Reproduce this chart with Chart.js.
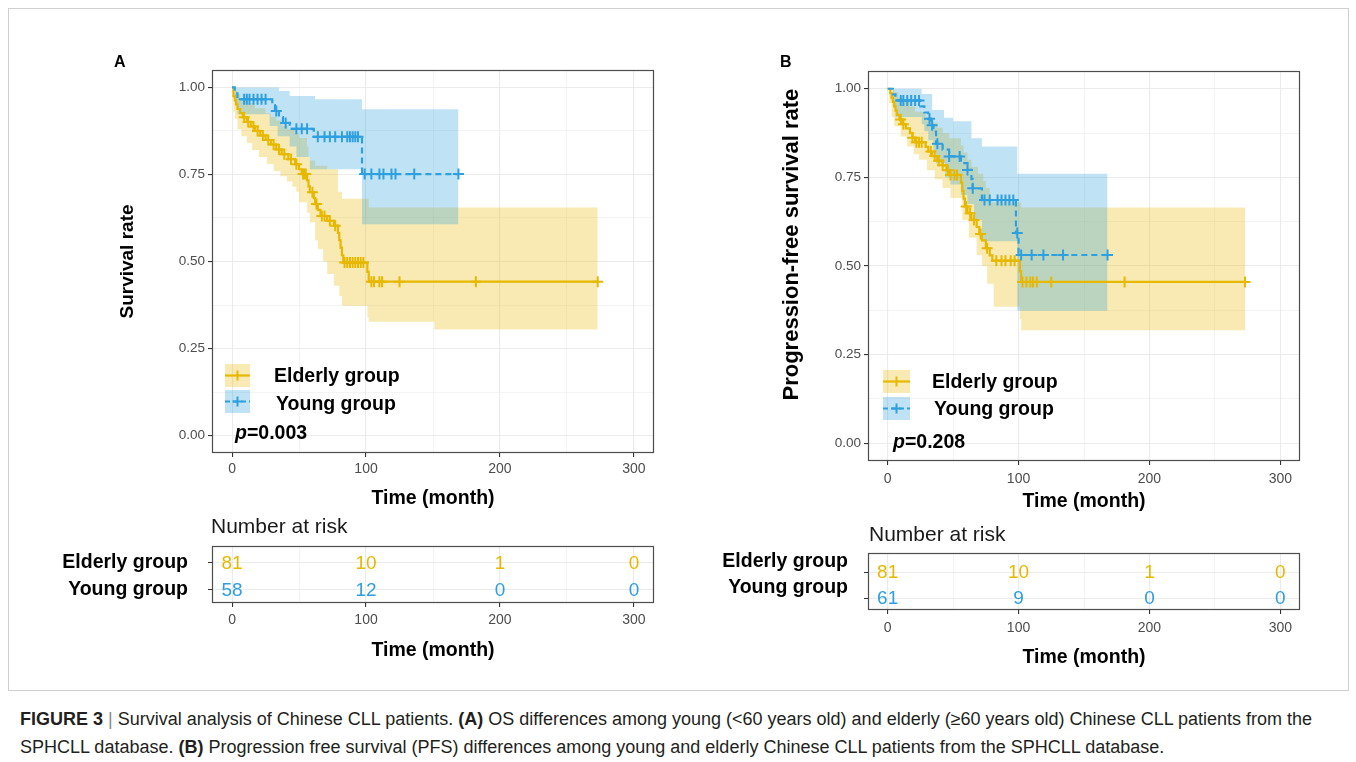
<!DOCTYPE html>
<html>
<head>
<meta charset="utf-8">
<script src="https://cdn.jsdelivr.net/npm/chart.js@4.4.1/dist/chart.umd.min.js"></script>
<style>
  html,body{margin:0;padding:0;background:#fff;}
  body{width:1356px;height:762px;position:relative;overflow:hidden;font-family:"Liberation Sans",Arial,Helvetica,sans-serif;color:#000;}
  canvas{position:absolute;}
  .abs{position:absolute;white-space:nowrap;}
  .lbl{font-weight:bold;font-size:19.5px;line-height:22px;}
  .risk{font-size:21px;line-height:24px;color:#1a1a1a;}
  .letter{font-weight:bold;font-size:16px;line-height:18px;}
  .cap{font-size:18px;line-height:28px;color:#231F20;left:20px;top:705px;}
</style>
</head>
<body>
<div class="abs" style="left:8px;top:8px;width:1339px;height:681px;border:1px solid #cfcfcf;"></div>

<canvas id="mainA" width="570" height="480" style="left:100px;top:40px;width:570px;height:480px"></canvas>
<canvas id="riskA" width="630" height="130" style="left:40px;top:540px;width:630px;height:130px"></canvas>
<canvas id="mainB" width="560" height="490" style="left:760px;top:40px;width:560px;height:490px"></canvas>
<canvas id="riskB" width="620" height="130" style="left:700px;top:545px;width:620px;height:130px"></canvas>

<div class="abs letter" style="left:114px;top:53px">A</div>
<div class="abs letter" style="left:780px;top:53px">B</div>

<!-- legend A -->
<svg class="abs" style="left:225px;top:364px" width="25" height="49">
  <rect x="0" y="0" width="25" height="23" fill="rgba(231,184,0,0.3)"/>
  <line x1="0" y1="11.5" x2="25" y2="11.5" stroke="#E7B800" stroke-width="2.2"/>
  <line x1="12.5" y1="6.5" x2="12.5" y2="16.5" stroke="#E7B800" stroke-width="2"/>
  <rect x="0" y="26" width="25" height="23" fill="rgba(46,159,223,0.3)"/>
  <line x1="0" y1="37.5" x2="25" y2="37.5" stroke="#2E9FDF" stroke-width="2.2" stroke-dasharray="5,3"/>
  <line x1="12.5" y1="32.5" x2="12.5" y2="42.5" stroke="#2E9FDF" stroke-width="2"/>
  <line x1="7.5" y1="37.5" x2="17.5" y2="37.5" stroke="#2E9FDF" stroke-width="2"/>
</svg>
<div class="abs lbl" style="left:274px;top:364px">Elderly group</div>
<div class="abs lbl" style="left:276px;top:392px">Young group</div>
<div class="abs lbl" style="left:235px;top:421px"><i>p</i>=0.003</div>

<!-- legend B -->
<svg class="abs" style="left:883px;top:370px" width="27" height="50">
  <rect x="0" y="0" width="27" height="23" fill="rgba(231,184,0,0.3)"/>
  <line x1="0" y1="11.5" x2="27" y2="11.5" stroke="#E7B800" stroke-width="2.2"/>
  <line x1="13.5" y1="6.5" x2="13.5" y2="16.5" stroke="#E7B800" stroke-width="2"/>
  <rect x="0" y="27" width="27" height="23" fill="rgba(46,159,223,0.3)"/>
  <line x1="0" y1="38.5" x2="27" y2="38.5" stroke="#2E9FDF" stroke-width="2.2" stroke-dasharray="5,3"/>
  <line x1="13.5" y1="33.5" x2="13.5" y2="43.5" stroke="#2E9FDF" stroke-width="2"/>
  <line x1="8.5" y1="38.5" x2="18.5" y2="38.5" stroke="#2E9FDF" stroke-width="2"/>
</svg>
<div class="abs lbl" style="left:932px;top:370px">Elderly group</div>
<div class="abs lbl" style="left:934px;top:397px">Young group</div>
<div class="abs lbl" style="left:893px;top:430px"><i>p</i>=0.208</div>

<div class="abs risk" style="left:211px;top:514px">Number at risk</div>
<div class="abs risk" style="left:869px;top:522px">Number at risk</div>

<div class="abs cap"><b>FIGURE 3</b> <span style="color:#888">|</span> Survival analysis of Chinese CLL patients. <b>(A)</b> OS differences among young (&lt;60 years old) and elderly (≥60 years old) Chinese CLL patients from the<br>SPHCLL database. <b>(B)</b> Progression free survival (PFS) differences among young and elderly Chinese CLL patients from the SPHCLL database.</div>

<script>
// ---------------- DATA ----------------
const groupLabels = ['Elderly group', 'Young group'];
const timeTicks = [0, 100, 200, 300];
const survTicks = [0, 0.25, 0.5, 0.75, 1];

// Panel A: overall survival, Kaplan-Meier steps
const osElderlyTime = [0,1,2,3,4,6,8,11,14,17,21,25,29,33,37,42,47,50,52,56,57,58,61,62,64,66,71,76,79,80,81,82,83,101,102,273];
const osElderlySurv = [1,0.975,0.963,0.951,0.938,0.926,0.914,0.901,0.888,0.875,0.862,0.849,0.836,0.822,0.808,0.794,0.779,0.765,0.751,0.733,0.716,0.699,0.682,0.665,0.648,0.631,0.617,0.603,0.582,0.561,0.540,0.518,0.497,0.470,0.442,0.442];
const osElderlyCensor = [9,12,16,19,23,27,31,35,39,44,48,53,54,55,60,63,67,69,73,77,84,86,88,90,92,94,96,98,104,106,110,112,125,182,273];
const osElderlyUpperTime = [0,2,4,6,11,17,25,29,33,37,42,47,50,56,57,58,62,71,79,82,102,273];
const osElderlyUpper = [1,0.99,0.98,0.965,0.955,0.94,0.925,0.915,0.905,0.89,0.88,0.87,0.855,0.83,0.80,0.79,0.775,0.765,0.70,0.68,0.655,0.655];
const osElderlyLowerTime = [0,1,2,4,7,11,15,20,26,31,36,41,45,48,50,56,58,62,64,68,71,76,80,82,101,102,151,273];
const osElderlyLower = [1,0.93,0.91,0.88,0.86,0.84,0.82,0.80,0.78,0.76,0.745,0.73,0.715,0.70,0.67,0.64,0.613,0.56,0.536,0.50,0.464,0.43,0.40,0.373,0.34,0.327,0.305,0.305];

const osYoungTime = [0,2,4,30,32,35,38,43,61,97,169];
const osYoungSurv = [1,0.983,0.966,0.949,0.932,0.915,0.898,0.881,0.858,0.751,0.751];
const osYoungCensor = [9,11,13,16,19,22,25,33,40,48,52,56,64,69,73,77,82,86,88,90,92,94,99,104,110,113,119,122,136,169];
const osYoungUpperTime = [0,35,43,62,97,169];
const osYoungUpper = [1,0.99,0.975,0.966,0.937,0.937];
const osYoungLowerTime = [0,2,4,28,34,43,48,58,97,169];
const osYoungLower = [1,0.95,0.923,0.889,0.86,0.83,0.80,0.765,0.607,0.607];

// Panel B: progression-free survival
const pfsElderlyTime = [0,2,3,4,5,6,7,9,11,14,17,19,21,29,31,34,38,42,45,47,56,57,58,59,61,64,68,70,72,75,78,80,101,102,273];
const pfsElderlySurv = [1,0.988,0.975,0.963,0.95,0.938,0.926,0.913,0.9,0.888,0.875,0.862,0.849,0.836,0.823,0.81,0.797,0.784,0.77,0.757,0.735,0.712,0.69,0.668,0.649,0.63,0.61,0.59,0.572,0.55,0.53,0.515,0.485,0.455,0.455];
const pfsElderlyCensor = [10,12,19,22,24,26,33,36,39,42,46,48,51,53,60,63,66,71,76,83,87,90,94,97,103,106,109,111,114,125,181,273];
const pfsElderlyUpperTime = [0,3,5,8,12,17,21,29,34,38,42,47,56,58,61,64,69,73,75,78,102,273];
const pfsElderlyUpper = [1,1,0.99,0.975,0.965,0.95,0.935,0.92,0.905,0.89,0.875,0.86,0.84,0.82,0.80,0.78,0.76,0.74,0.72,0.68,0.665,0.665];
const pfsElderlyLowerTime = [0,1,3,5,10,15,20,24,30,36,42,48,57,62,68,72,76,81,101,102,273];
const pfsElderlyLower = [1,0.96,0.92,0.894,0.865,0.837,0.815,0.80,0.77,0.745,0.72,0.692,0.63,0.58,0.53,0.50,0.45,0.385,0.35,0.319,0.319];

const pfsYoungTime = [0,4,6,25,28,31,33,35,37,42,47,56,61,64,65,72,98,100,168];
const pfsYoungSurv = [1,0.984,0.967,0.95,0.933,0.915,0.897,0.879,0.845,0.828,0.809,0.79,0.771,0.745,0.719,0.686,0.593,0.531,0.531];
const pfsYoungCensor = [10,12,15,18,21,24,32,34,38,47,55,61,65,74,78,84,87,90,93,96,99,102,110,119,134,168];
const pfsYoungUpperTime = [0,26,34,43,50,64,72,99,168];
const pfsYoungUpper = [1,0.985,0.94,0.918,0.908,0.86,0.837,0.76,0.76];
const pfsYoungLowerTime = [0,4,6,26,28,31,35,37,44,48,56,61,66,72,99,168];
const pfsYoungLower = [1,0.95,0.92,0.9,0.88,0.855,0.82,0.79,0.75,0.73,0.70,0.675,0.63,0.57,0.374,0.374];

// Number at risk
const riskTimes = [0, 100, 200, 300];
const osRiskElderly = [81, 10, 1, 0];
const osRiskYoung = [58, 12, 0, 0];
const pfsRiskElderly = [81, 10, 1, 0];
const pfsRiskYoung = [61, 9, 0, 0];

// ---------------- DRAWING ----------------
Chart.defaults.font.family = "'Liberation Sans', Arial, Helvetica, sans-serif";
Chart.defaults.animation = false;

const YELLOW = '#E7B800', BLUE = '#2E9FDF';
const YELLOW_FILL = 'rgba(231,184,0,0.3)', BLUE_FILL = 'rgba(46,159,223,0.3)';
const GRID = '#EBEBEB', TICKTXT = '#4D4D4D', BORDER = '#4D4D4D';

function withMinors(arr){
  const out = [];
  arr.forEach((v,i)=>{ out.push(v); if(i < arr.length-1) out.push((v + arr[i+1]) / 2); });
  return out;
}
const xGrid = withMinors(timeTicks);
const yGrid = withMinors(survTicks);
const isMajor = (arr, v) => arr.some(a => Math.abs(a - v) < 1e-9);

function pts(t, v){ return t.map((x,i)=>({x:x, y:v[i]})); }
function survAt(t, v, x){ let s = v[0]; for(let i=0;i<t.length;i++){ if(t[i] <= x) s = v[i]; } return s; }
function censorPts(t, v, c){ return c.map(x=>({x:x, y:survAt(t, v, x)})); }

const borderPlugin = {
  id:'panelBorder',
  afterDraw(chart){
    const {ctx, chartArea:a} = chart;
    ctx.save();
    ctx.strokeStyle = BORDER; ctx.lineWidth = 1.2;
    ctx.strokeRect(Math.round(a.left)+0.5, Math.round(a.top)+0.5, Math.round(a.right-a.left)-1, Math.round(a.bottom-a.top)-1);
    ctx.restore();
  }
};

const riskTextPlugin = {
  id:'riskText',
  afterDatasetsDraw(chart){
    const ctx = chart.ctx;
    chart.data.datasets.forEach((ds, i)=>{
      if(!ds.riskLabels) return;
      const meta = chart.getDatasetMeta(i);
      ctx.save();
      ctx.fillStyle = ds.textColor;
      ctx.font = "19px 'Liberation Sans Narrow', 'Liberation Sans', Arial, sans-serif";
      ctx.textAlign = 'center'; ctx.textBaseline = 'middle';
      meta.data.forEach((p, j)=> ctx.fillText(String(ds.riskLabels[j]), p.x, p.y + 1));
      ctx.restore();
    });
  }
};

function xScale(L){
  return {
    type:'linear', min:-15, max:315,
    afterBuildTicks: s => { s.ticks = xGrid.map(v=>({value:v})); },
    afterFit: s => { s.height = L.xH; },
    ticks:{ autoSkip:false, maxRotation:0, color:TICKTXT, font:{size:14}, padding:L.xTickPad,
            callback: v => isMajor(timeTicks, v) ? String(v) : '' },
    grid:{ drawTicks:true, tickLength:4,
           color: c => GRID,
           lineWidth: c => (c.tick && isMajor(timeTicks, c.tick.value)) ? 1.1 : 0.55,
           tickColor: c => (c.tick && isMajor(timeTicks, c.tick.value)) ? '#333' : 'rgba(0,0,0,0)' },
    border:{ display:false },
    title:{ display:true, text:'Time (month)', color:'#000', font:{size:19.5, weight:'bold'},
            padding:{top:0, bottom:L.xTitlePad} }
  };
}

function mainChart(id, L, d){
  return new Chart(document.getElementById(id), {
    type:'line',
    data:{ datasets:[
      { data:pts(d.eUT, d.eU), fill:'+1', backgroundColor:YELLOW_FILL, borderWidth:0, borderColor:'rgba(0,0,0,0)', pointRadius:0, stepped:'before', order:20 },
      { data:pts(d.eLT, d.eL), fill:false, borderWidth:0, borderColor:'rgba(0,0,0,0)', pointRadius:0, stepped:'before', order:20 },
      { data:pts(d.yUT, d.yU), fill:'+1', backgroundColor:BLUE_FILL, borderWidth:0, borderColor:'rgba(0,0,0,0)', pointRadius:0, stepped:'before', order:15 },
      { data:pts(d.yLT, d.yL), fill:false, borderWidth:0, borderColor:'rgba(0,0,0,0)', pointRadius:0, stepped:'before', order:15 },
      { data:pts(d.eT, d.eS), fill:false, borderColor:YELLOW, borderWidth:2.2, pointRadius:0, stepped:'before', order:5 },
      { data:pts(d.yT, d.yS), fill:false, borderColor:BLUE, borderWidth:2.2, borderDash:[6,4], pointRadius:0, stepped:'before', order:4 },
      { data:censorPts(d.eT, d.eS, d.eC), showLine:false, fill:false, pointStyle:'cross', pointRadius:5.5, pointBorderWidth:2, pointBorderColor:YELLOW, pointBackgroundColor:YELLOW, order:2 },
      { data:censorPts(d.yT, d.yS, d.yC), showLine:false, fill:false, pointStyle:'cross', pointRadius:5.5, pointBorderWidth:2, pointBorderColor:BLUE, pointBackgroundColor:BLUE, order:1 }
    ]},
    options:{
      responsive:false, animation:false, events:[],
      layout:{ padding:{ top:L.padTop, right:L.padRight, left:0, bottom:0 } },
      plugins:{ legend:{display:false}, tooltip:{enabled:false}, title:{display:false} },
      scales:{
        x: xScale(L),
        y:{
          type:'linear', min:-0.05, max:1.05,
          afterBuildTicks: s => { s.ticks = yGrid.map(v=>({value:v})); },
          afterFit: s => { s.width = L.yW; },
          ticks:{ autoSkip:false, color:TICKTXT, font:{size:13.5}, padding:3,
                  callback: v => isMajor(survTicks, v) ? Number(v).toFixed(2) : '' },
          grid:{ drawTicks:true, tickLength:4,
                 color: c => GRID,
                 lineWidth: c => (c.tick && isMajor(survTicks, c.tick.value)) ? 1.1 : 0.55,
                 tickColor: c => (c.tick && isMajor(survTicks, c.tick.value)) ? '#333' : 'rgba(0,0,0,0)' },
          border:{ display:false },
          title:{ display:true, text:L.yTitle, color:'#000', font:{size:L.yTitleSize, weight:'bold'},
                  padding:{top:L.yTitlePad, bottom:0} }
        }
      }
    },
    plugins:[borderPlugin]
  });
}

function riskChart(id, L, eVals, yVals){
  return new Chart(document.getElementById(id), {
    type:'line',
    data:{ datasets:[
      { data:riskTimes.map(t=>({x:t, y:1})), riskLabels:eVals, textColor:YELLOW, showLine:false, pointRadius:0 },
      { data:riskTimes.map(t=>({x:t, y:2})), riskLabels:yVals, textColor:BLUE, showLine:false, pointRadius:0 }
    ]},
    options:{
      responsive:false, animation:false, events:[],
      layout:{ padding:{ top:L.padTop, right:L.padRight, left:0, bottom:0 } },
      plugins:{ legend:{display:false}, tooltip:{enabled:false} },
      scales:{
        x: xScale(L),
        y:{
          type:'linear', min:L.yMin, max:L.yMax, reverse:true,
          afterBuildTicks: s => { s.ticks = groupLabels.map((g,i)=>({value:i+1})); },
          afterFit: s => { s.width = L.yW; s.paddingTop = 0; s.paddingBottom = 0; },
          ticks:{ autoSkip:false, color:'#000', font:{size:19.5, weight:'bold'}, padding:L.yTickPad,
                  labelOffset:L.labelOffset, callback: v => groupLabels[Math.round(v)-1] },
          grid:{ drawTicks:true, tickLength:4, color:GRID, lineWidth:1, tickColor:'#333' },
          border:{ display:false }
        }
      }
    },
    plugins:[borderPlugin, riskTextPlugin]
  });
}

mainChart('mainA',
  { padTop:30, padRight:16, yW:112, xH:67, xTickPad:4, xTitlePad:9.6, yTitlePad:16.6, yTitleSize:19, yTitle:'Survival rate' },
  { eT:osElderlyTime, eS:osElderlySurv, eC:osElderlyCensor,
    eUT:osElderlyUpperTime, eU:osElderlyUpper, eLT:osElderlyLowerTime, eL:osElderlyLower,
    yT:osYoungTime, yS:osYoungSurv, yC:osYoungCensor,
    yUT:osYoungUpperTime, yU:osYoungUpper, yLT:osYoungLowerTime, yL:osYoungLower });

mainChart('mainB',
  { padTop:31, padRight:20, yW:108, xH:69, xTickPad:6, xTitlePad:16.6, yTitlePad:18.8, yTitleSize:22,
    yTitle:'       Progression-free survival rate' },
  { eT:pfsElderlyTime, eS:pfsElderlySurv, eC:pfsElderlyCensor,
    eUT:pfsElderlyUpperTime, eU:pfsElderlyUpper, eLT:pfsElderlyLowerTime, eL:pfsElderlyLower,
    yT:pfsYoungTime, yS:pfsYoungSurv, yC:pfsYoungCensor,
    yUT:pfsYoungUpperTime, yU:pfsYoungUpper, yLT:pfsYoungLowerTime, yL:pfsYoungLower });

riskChart('riskA',
  { padTop:6, padRight:16, yW:172, xH:67, xTickPad:5, xTitlePad:7.6, yMin:0.4, yMax:2.5, yTickPad:20, labelOffset:0 },
  osRiskElderly, osRiskYoung);

riskChart('riskB',
  { padTop:8, padRight:20, yW:168, xH:65, xTickPad:6, xTitlePad:5.6, yMin:0.27, yMax:2.46, yTickPad:16, labelOffset:-10 },
  pfsRiskElderly, pfsRiskYoung);
</script>
</body>
</html>
